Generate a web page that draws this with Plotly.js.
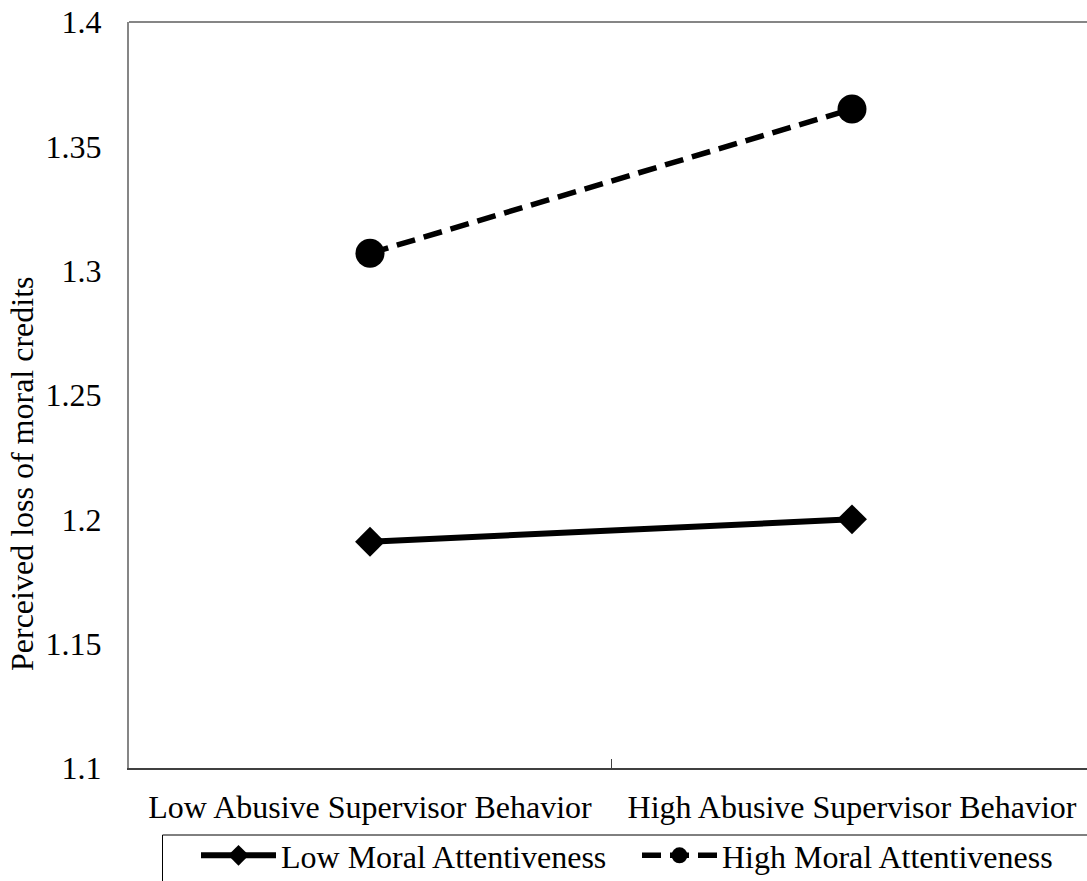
<!DOCTYPE html>
<html>
<head>
<meta charset="utf-8">
<script src="https://cdn.plot.ly/plotly-3.0.1.min.js"></script>
<style>
html, body { margin: 0; padding: 0; overflow: hidden; background: #fff; }
#wrap { width: 1087px; height: 881px; overflow: hidden; }
#chart { width: 1093px; height: 900px; }
</style>
</head>
<body>
<div id="wrap"><div id="chart"></div></div>
<script>
var categories = ["Low Abusive Supervisor Behavior", "High Abusive Supervisor Behavior"];
var seriesNames = ["Low Moral Attentiveness", "High Moral Attentiveness"];
var lowMoral = [1.191, 1.200];
var highMoral = [1.307, 1.365];
var yTickVals = [1.1, 1.15, 1.2, 1.25, 1.3, 1.35, 1.4];
var yTickText = ["1.1", "1.15", "1.2", "1.25", "1.3", "1.35", "1.4"];
var yTitle = "Perceived loss of moral credits";

var FONT = "Liberation Serif, Times New Roman, serif";
var FS = 32;

var traces = [
  {
    x: categories, y: lowMoral, name: seriesNames[0], type: "scatter", mode: "lines+markers",
    line: { color: "#000000", width: 6 },
    marker: { symbol: "diamond", size: 23, color: "#000000" }
  },
  {
    x: categories, y: highMoral, name: seriesNames[1], type: "scatter", mode: "lines+markers",
    line: { color: "#000000", width: 5.5, dash: "19px,9px" },
    marker: { symbol: "circle", size: 29, color: "#000000" }
  }
];

// plot area: 129..1093 horizontally, 22..768 vertically
var H = 900, PT = 22, PB = 768;
var ph = PB - PT;

var layout = {
  width: 1093, height: H,
  margin: { l: 129, r: 0, t: PT, b: H - PB, pad: 0 },
  paper_bgcolor: "#ffffff", plot_bgcolor: "#ffffff",
  font: { family: FONT, size: FS, color: "#000000" },
  showlegend: true,
  legend: {
    orientation: "h", x: (196 - 129) / 964, xanchor: "left",
    y: (PB - 828) / ph, yanchor: "top",
    borderwidth: 0, bgcolor: "rgba(0,0,0,0)",
    font: { family: FONT, size: FS, color: "#000000" },
    itemwidth: 75, entrywidth: 351, entrywidthmode: "pixels",
    traceorder: "normal"
  },
  xaxis: {
    type: "category", range: [-0.5, 1.5],
    showgrid: false, zeroline: false,
    showline: true, linecolor: "#404040", linewidth: 1.5,
    ticks: "inside", tickson: "boundaries", ticklen: 9, tickcolor: "#404040", tickwidth: 1,
    tickfont: { family: FONT, size: FS, color: "#000000" },
    ticklabelstandoff: 10,
    fixedrange: true
  },
  yaxis: {
    range: [1.1, 1.4],
    tickvals: yTickVals, ticktext: yTickText,
    showgrid: false, zeroline: false,
    showline: true, linecolor: "#868686", linewidth: 2,
    ticks: "",
    tickfont: { family: FONT, size: FS, color: "#000000" },
    ticklabelstandoff: 19,
    fixedrange: true
  },
  shapes: [
    { type: "line", xref: "paper", yref: "paper", x0: 0, x1: 1, y0: 1, y1: 1,
      line: { color: "#868686", width: 2 } },
    { type: "rect", xref: "paper", yref: "paper",
      x0: (162.5 - 129) / 964, x1: 1.05, y0: (PB - 835) / ph, y1: (PB - 920) / ph,
      line: { color: "#000000", width: 1 }, fillcolor: "rgba(0,0,0,0)" }
  ],
  annotations: [
    { text: yTitle, xref: "paper", yref: "paper", x: (22 - 129) / 964, y: (PB - 474) / ph,
      xanchor: "center", yanchor: "middle", textangle: -90, showarrow: false,
      font: { family: FONT, size: FS, color: "#000000" } }
  ]
};

Plotly.newPlot("chart", traces, layout, { displayModeBar: false, staticPlot: true });
</script>
</body>
</html>
